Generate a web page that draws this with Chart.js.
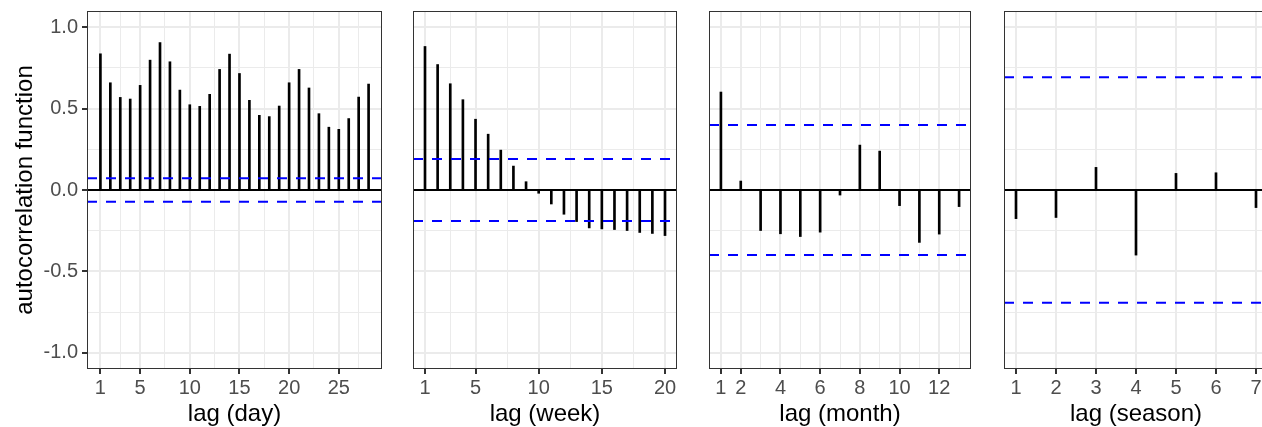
<!DOCTYPE html>
<html>
<head>
<meta charset="utf-8">
<script src="https://cdn.jsdelivr.net/npm/chart.js@4.4.0/dist/chart.umd.min.js"></script>
<style>
  html, body { margin: 0; padding: 0; background: #fff; overflow: hidden; width: 1262px; height: 427px; }
  .panel { position: absolute; top: 0; height: 429px; }
</style>
</head>
<body>
<div class="panel" style="left:0;width:390px"><canvas id="dayChart"></canvas></div>
<div class="panel" style="left:413px;width:264px"><canvas id="weekChart"></canvas></div>
<div class="panel" style="left:709px;width:262px"><canvas id="monthChart"></canvas></div>
<div class="panel" style="left:1004px;width:264px"><canvas id="seasonChart"></canvas></div>
<script>
// ACF values
const dayLags = [1, 2, 3, 4, 5, 6, 7, 8, 9, 10, 11, 12, 13, 14, 15, 16, 17, 18, 19, 20, 21, 22, 23, 24, 25, 26, 27, 28];
const dayAcf = [0.837, 0.659, 0.569, 0.559, 0.643, 0.798, 0.906, 0.788, 0.614, 0.524, 0.514, 0.588, 0.741, 0.835,
                0.716, 0.551, 0.459, 0.451, 0.516, 0.659, 0.741, 0.627, 0.469, 0.386, 0.373, 0.439, 0.571, 0.651];
const weekLags = [1, 2, 3, 4, 5, 6, 7, 8, 9, 10, 11, 12, 13, 14, 15, 16, 17, 18, 19, 20];
const weekAcf = [0.882, 0.771, 0.653, 0.555, 0.435, 0.343, 0.245, 0.147, 0.051, -0.02,
                 -0.086, -0.149, -0.194, -0.233, -0.239, -0.243, -0.249, -0.261, -0.267, -0.280];
const monthLags = [1, 2, 3, 4, 5, 6, 7, 8, 9, 10, 11, 12, 13];
const monthAcf = [0.602, 0.055, -0.249, -0.269, -0.286, -0.259, -0.031, 0.276, 0.239, -0.096, -0.322, -0.271, -0.102];
const seasonLags = [1, 2, 3, 4, 5, 6, 7];
const seasonAcf = [-0.176, -0.169, 0.139, -0.40, 0.102, 0.106, -0.108];

// confidence bounds (+/-)
const dayCi = 0.072;
const weekCi = 0.19;
const monthCi = 0.40;
const seasonCi = 0.693;

// tick labels and grid breaks
const yTicks = [-1, -0.5, 0, 0.5, 1];
const yMinor = [-0.75, -0.25, 0.25, 0.75];
const dayTicks = [1, 5, 10, 15, 20, 25];
const dayMinor = [3, 7.5, 12.5, 17.5, 22.5, 27];
const weekTicks = [1, 5, 10, 15, 20];
const weekMinor = [3, 7.5, 12.5, 17.5];
const monthTicks = [1, 2, 4, 6, 8, 10, 12];
const monthMinor = [3, 5, 7, 9, 11, 13];
const seasonTicks = [1, 2, 3, 4, 5, 6, 7];
const seasonMinor = [];

const FONT = "'Liberation Sans', Arial, sans-serif";

// ggplot-style panel border drawn on top
const panelBorder = {
    id: 'panelBorder',
    afterDraw(chart) {
        const { ctx, chartArea: a } = chart;
        ctx.save();
        ctx.strokeStyle = '#333333';
        ctx.lineWidth = 1;
        ctx.strokeRect(a.left + 0.5, a.top + 0.5, a.width - 1, a.height - 1);
        ctx.restore();
    }
};

const isMajor = (set, c) => !!(c.tick && set.has(c.tick.value));

function makePanel(id, lags, acf, ci, xMin, xMax, xTicks, xMinor, title, showY) {
    const majorX = new Set(xTicks);
    const majorY = new Set(yTicks);
    const xRange = [xMin, xMax];

    new Chart(document.getElementById(id), {
        type: 'bar',
        data: {
            datasets: [
                {
                    type: 'line',
                    data: xRange.map(x => ({ x: x, y: 0 })),
                    borderColor: '#000000',
                    borderWidth: 2,
                    pointRadius: 0,
                    order: 2
                },
                {
                    type: 'bar',
                    data: lags.map((l, i) => ({ x: l, y: acf[i] })),
                    backgroundColor: '#000000',
                    borderWidth: 0,
                    barThickness: 2,
                    order: 1
                },
                {
                    type: 'line',
                    data: xRange.map(x => ({ x: x, y: ci })),
                    borderColor: '#0000FF',
                    borderWidth: 2,
                    borderDash: [10, 9],
                    pointRadius: 0,
                    order: 0
                },
                {
                    type: 'line',
                    data: xRange.map(x => ({ x: x, y: -ci })),
                    borderColor: '#0000FF',
                    borderWidth: 2,
                    borderDash: [10, 9],
                    pointRadius: 0,
                    order: 0
                }
            ]
        },
        options: {
            responsive: true,
            maintainAspectRatio: false,
            animation: false,
            layout: { padding: { top: 11, left: 0, right: showY ? 8 : 0, bottom: 0 } },
            plugins: { legend: { display: false }, tooltip: { enabled: false } },
            scales: {
                x: {
                    type: 'linear',
                    min: xMin,
                    max: xMax,
                    offset: false,
                    afterBuildTicks: s => {
                        s.ticks = xTicks.concat(xMinor).sort((a, b) => a - b).map(v => ({ value: v }));
                    },
                    afterFit: s => { s.height = 60; s.paddingLeft = 0; s.paddingRight = 0; },
                    grid: {
                        offset: false,
                        color: '#EBEBEB',
                        lineWidth: c => isMajor(majorX, c) ? 2 : 1,
                        tickColor: c => isMajor(majorX, c) ? '#333333' : 'rgba(0,0,0,0)',
                        tickWidth: 2,
                        tickLength: 5
                    },
                    border: { display: false },
                    ticks: {
                        autoSkip: false,
                        maxRotation: 0,
                        padding: 2,
                        color: '#4D4D4D',
                        font: { family: FONT, size: 20 },
                        callback: v => majorX.has(v) ? String(v) : ''
                    },
                    title: {
                        display: true,
                        text: title,
                        color: '#000000',
                        padding: { top: 0, bottom: 0 },
                        font: { family: FONT, size: 24 }
                    }
                },
                y: {
                    min: -1.1,
                    max: 1.1,
                    afterBuildTicks: s => {
                        s.ticks = yTicks.concat(yMinor).sort((a, b) => a - b).map(v => ({ value: v }));
                    },
                    afterFit: s => { s.width = showY ? 87 : 0; s.paddingTop = 0; s.paddingBottom = 0; },
                    grid: {
                        color: '#EBEBEB',
                        lineWidth: c => isMajor(majorY, c) ? 2 : 1,
                        tickColor: c => isMajor(majorY, c) ? '#333333' : 'rgba(0,0,0,0)',
                        tickWidth: 2,
                        tickLength: 5,
                        drawTicks: showY
                    },
                    border: { display: false },
                    ticks: {
                        display: showY,
                        autoSkip: false,
                        padding: 4,
                        color: '#4D4D4D',
                        font: { family: FONT, size: 20 },
                        callback: v => majorY.has(v) ? v.toFixed(1) : ''
                    },
                    title: {
                        display: showY,
                        text: 'autocorrelation function',
                        color: '#000000',
                        padding: { top: 11, bottom: 0 },
                        font: { family: FONT, size: 24 }
                    }
                }
            }
        },
        plugins: [panelBorder]
    });
}

makePanel('dayChart', dayLags, dayAcf, dayCi, -0.35, 29.35, dayTicks, dayMinor, 'lag (day)', true);
makePanel('weekChart', weekLags, weekAcf, weekCi, 0.05, 20.95, weekTicks, weekMinor, 'lag (week)', false);
makePanel('monthChart', monthLags, monthAcf, monthCi, 0.4, 13.6, monthTicks, monthMinor, 'lag (month)', false);
makePanel('seasonChart', seasonLags, seasonAcf, seasonCi, 0.7, 7.3, seasonTicks, seasonMinor, 'lag (season)', false);
</script>
</body>
</html>
